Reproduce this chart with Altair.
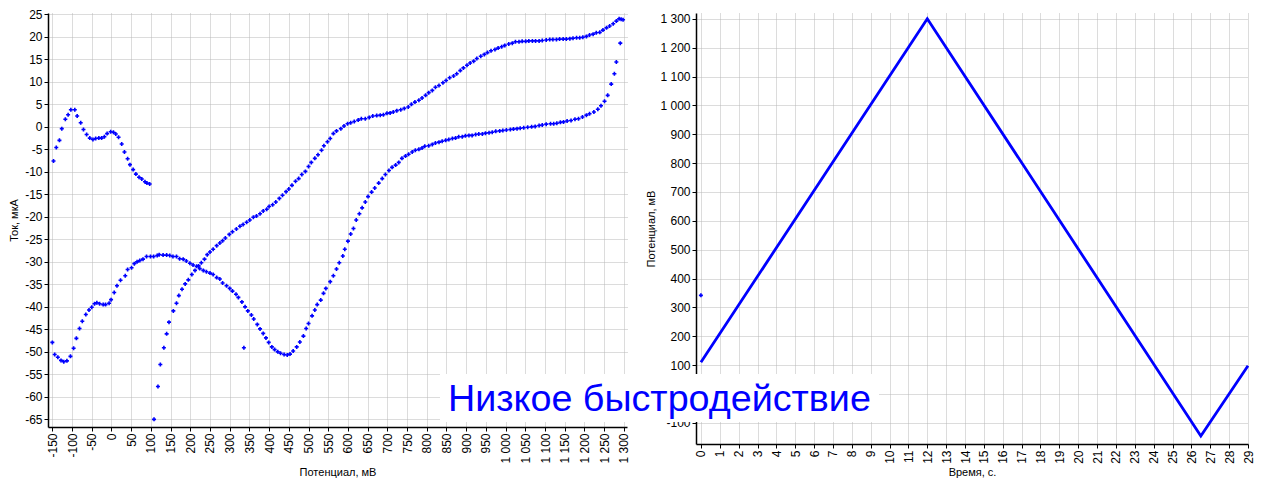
import altair as alt
import pandas as pd

# ---------------- data ----------------
# Left panel: potential (mV), current (uA)
start_point = [(336, -49.1)]

rise_branch = [
    (108, -65.0), (118, -57.7), (124, -52.8), (133, -49.1), (140, -46.0), (146, -43.4),
    (157, -40.9), (165, -39.2), (171, -37.5), (179, -36.1), (187, -34.9), (195, -34.0),
    (204, -32.8), (212, -31.9), (221, -30.9), (228, -30.2), (236, -29.4), (243, -28.4),
    (250, -27.8), (258, -27.2), (267, -26.4), (275, -25.8), (282, -25.3), (289, -24.7),
    (299, -23.9), (307, -23.3), (317, -22.7), (326, -22.1), (334, -21.7), (343, -21.2),
    (351, -20.7), (360, -20.1), (368, -19.8), (377, -19.3), (385, -18.7), (394, -18.3),
    (400, -17.7), (409, -17.3), (417, -16.7), (426, -15.9), (434, -15.2), (443, -14.4),
    (450, -13.8), (458, -13.0), (467, -12.1), (475, -11.5), (483, -10.6), (492, -9.9),
    (500, -8.8), (507, -7.9), (516, -7.0), (524, -6.2), (533, -5.2), (539, -4.2),
    (548, -3.3), (555, -2.6), (563, -1.5), (571, -0.9), (582, -0.4), (590, 0.2),
    (599, 0.7), (607, 0.9), (616, 1.2), (626, 1.5), (634, 1.8), (644, 1.8),
    (654, 2.1), (663, 2.4), (673, 2.5), (682, 2.6), (690, 2.7), (699, 3.0),
    (707, 3.1), (715, 3.3), (724, 3.6), (734, 3.8), (743, 4.1), (753, 4.4),
    (761, 5.0), (770, 5.5), (780, 5.9), (788, 6.4), (797, 7.0), (805, 7.6),
    (814, 8.1), (822, 8.8), (831, 9.2), (841, 9.8), (849, 10.3), (858, 10.9),
    (868, 11.3), (876, 11.8), (885, 12.5), (893, 13.1), (902, 13.7), (910, 14.2),
    (919, 14.6), (927, 15.2), (937, 15.7), (946, 16.1), (954, 16.5), (963, 16.9),
    (973, 17.2), (981, 17.5), (990, 17.8), (998, 18.1), (1008, 18.4), (1017, 18.6),
    (1025, 18.9), (1034, 18.9), (1042, 19.0), (1051, 19.0), (1059, 19.1), (1068, 19.1),
    (1076, 19.1), (1085, 19.1), (1093, 19.2), (1103, 19.3), (1112, 19.4), (1120, 19.4),
    (1129, 19.4), (1137, 19.5), (1146, 19.5), (1154, 19.5), (1163, 19.6), (1171, 19.7),
    (1180, 19.8), (1188, 19.8), (1196, 19.9), (1205, 20.1), (1213, 20.4), (1222, 20.6),
    (1230, 20.9), (1239, 21.0), (1247, 21.5), (1256, 22.0), (1264, 22.4), (1273, 22.9),
    (1281, 23.5), (1288, 24.0), (1293, 23.9), (1298, 23.8),
]

return_branch = [
    (1291, 18.6), (1281, 14.4), (1276, 11.8), (1268, 9.5), (1259, 7.0), (1251, 5.7),
    (1242, 4.7), (1234, 3.9), (1224, 3.3), (1213, 2.9), (1205, 2.6), (1195, 2.2),
    (1185, 1.8), (1176, 1.7), (1166, 1.4), (1156, 1.3), (1147, 1.1), (1139, 1.0),
    (1130, 0.8), (1122, 0.7), (1114, 0.7), (1103, 0.6), (1093, 0.4), (1085, 0.3),
    (1075, 0.1), (1066, 0.0), (1056, -0.1), (1046, -0.2), (1037, -0.3), (1029, -0.4),
    (1020, -0.5), (1012, -0.6), (1002, -0.7), (993, -0.8), (985, -0.9), (975, -1.0),
    (966, -1.2), (958, -1.3), (949, -1.4), (941, -1.6), (932, -1.6), (924, -1.7),
    (915, -1.9), (907, -1.9), (898, -2.0), (890, -2.2), (881, -2.2), (873, -2.5),
    (865, -2.6), (856, -2.8), (848, -3.0), (839, -3.2), (831, -3.4), (822, -3.6),
    (814, -3.9), (805, -4.2), (795, -4.3), (788, -4.7), (780, -5.0), (771, -5.2),
    (763, -5.6), (754, -6.1), (746, -6.5), (737, -7.0), (729, -7.9), (721, -8.5),
    (712, -9.0), (704, -9.7), (695, -10.6), (687, -11.5), (678, -12.5), (668, -13.6),
    (660, -14.5), (651, -15.5), (644, -16.7), (636, -18.0), (629, -19.3), (621, -20.7),
    (614, -22.6), (607, -23.8), (600, -25.4), (592, -27.2), (587, -28.7), (578, -30.2),
    (571, -31.6), (563, -33.1), (555, -34.4), (544, -35.9), (538, -37.0), (531, -38.5),
    (522, -39.5), (516, -40.7), (509, -42.0), (500, -43.7), (494, -44.8), (487, -46.5),
    (478, -47.8), (470, -48.9), (461, -49.8), (453, -50.5), (446, -50.7), (438, -50.6),
    (429, -50.3), (422, -50.0), (414, -49.5), (407, -48.9), (399, -47.9), (392, -46.9),
    (385, -45.9), (377, -44.9), (370, -43.9), (361, -42.7), (355, -41.8), (346, -40.9),
    (339, -40.0), (331, -38.9), (322, -37.9), (316, -37.2), (307, -36.5), (300, -35.9),
    (292, -35.3), (282, -34.7), (275, -33.8), (267, -33.5), (258, -32.8), (250, -32.5),
    (241, -32.2), (233, -31.9), (224, -31.5), (216, -31.0), (207, -30.7), (199, -30.3),
    (190, -29.8), (182, -29.4), (173, -29.3), (165, -28.8), (156, -28.8), (148, -28.6),
    (140, -28.5), (131, -28.5), (121, -28.4), (116, -28.6), (107, -28.8), (99, -28.8),
    (89, -28.8), (80, -29.4), (72, -29.7), (65, -30.0), (58, -30.4), (51, -31.3),
    (41, -31.7), (35, -33.1), (23, -34.1), (14, -35.3), (7, -36.8), (-1, -38.4),
    (-6, -39.2), (-15, -39.5), (-21, -39.5), (-30, -39.3), (-37, -39.1), (-43, -39.3),
    (-50, -40.1), (-57, -40.7), (-65, -41.7), (-74, -43.2), (-81, -44.8), (-89, -47.0),
    (-96, -49.2), (-104, -51.0), (-113, -52.0), (-121, -52.2), (-128, -51.9), (-136, -51.2),
    (-144, -50.6), (-150, -47.9),
]

final_branch = [
    (-147, -7.6), (-140, -4.6), (-132, -3.0), (-126, -0.4), (-117, 1.7), (-110, 2.7),
    (-103, 3.8), (-93, 3.8), (-87, 2.4), (-78, 0.9), (-71, -0.6), (-63, -1.7),
    (-55, -2.5), (-47, -2.8), (-40, -2.6), (-32, -2.5), (-25, -2.5), (-18, -2.2),
    (-11, -1.5), (-2, -1.1), (5, -1.2), (11, -1.6), (18, -2.3), (26, -3.8),
    (33, -5.6), (41, -7.1), (47, -8.4), (55, -9.5), (62, -10.5), (70, -11.2),
    (77, -11.6), (85, -12.2), (90, -12.5), (97, -12.7),
]

# Right panel: time (s), potential (mV) - turning points of the sweep
sweep_time = [0, 12, 26.5, 29]
sweep_potential = [110, 1300, -145, 98]
first_sample_time = [0]
first_sample_potential = [342]

# axis tick values
left_x_ticks = list(range(-150, 1301, 50))
left_y_ticks = list(range(-65, 26, 5))
right_x_ticks = list(range(0, 30))
right_y_ticks = list(range(-100, 1301, 100))

title_text = "Низкое быстродействие"

# ---------------- build tables ----------------
pts = start_point + rise_branch + return_branch + final_branch
cv_df = pd.DataFrame(pts, columns=["V", "I"])
sweep_df = pd.DataFrame({"t": sweep_time, "E": sweep_potential})
first_df = pd.DataFrame({"t": first_sample_time, "E": first_sample_potential})

BLUE = "#0000ff"
FONT = "Liberation Sans"
thousands = "abs(datum.value) >= 1000 ? replace(format(datum.value, ','), ',', ' ') : toString(datum.value)"
# the 0 mV label of the right panel lies under the caption box in the reference
right_y_labels = "datum.value == 0 ? '' : (" + thousands + ")"

common_axis = dict(
    domainColor="black", domainWidth=1.5, tickColor="black", tickSize=4,
    gridColor="#b8b8b8", gridDash=[1, 1], gridWidth=1, labelOverlap=False,
    labelFont=FONT, labelFontSize=12, labelColor="black", labelPadding=2,
    titleFont=FONT, titleFontSize=11, titleFontWeight="normal", titleColor="black",
)

left = alt.Chart(cv_df).mark_point(
    shape="cross", filled=True, size=16, color=BLUE, opacity=1
).encode(
    x=alt.X("V:Q",
            scale=alt.Scale(domain=[-161, 1308], nice=False, zero=False),
            axis=alt.Axis(values=left_x_ticks, labelAngle=270, labelExpr=thousands,
                          title="Потенциал, мВ", titlePadding=3, **common_axis)),
    y=alt.Y("I:Q",
            scale=alt.Scale(domain=[-66.7, 25.3], nice=False, zero=False),
            axis=alt.Axis(values=left_y_ticks, labelExpr="toString(datum.value)",
                          title="Ток, мкА", titlePadding=5, **common_axis)),
).properties(width=579, height=414)


def x_right():
    return alt.X("t:Q",
                 scale=alt.Scale(domain=[-0.26, 29.0], nice=False, zero=False),
                 axis=alt.Axis(values=right_x_ticks, tickCount=30, labelAngle=270,
                               title="Время, с.", titlePadding=3, **common_axis))


def y_right():
    return alt.Y("E:Q",
                 scale=alt.Scale(domain=[-173, 1320], nice=False, zero=False),
                 axis=alt.Axis(values=right_y_ticks, tickCount=15, labelExpr=right_y_labels,
                               title="Потенциал, мВ", titlePadding=3, **common_axis))


sweep = alt.Chart(sweep_df).mark_line(color=BLUE, strokeWidth=2.8).encode(x=x_right(), y=y_right())
first = alt.Chart(first_df).mark_point(
    shape="cross", filled=True, size=16, color=BLUE, opacity=1
).encode(x=x_right(), y=y_right())

box = alt.Chart(alt.Data(values=[{}])).mark_rect(color="white", opacity=1).encode(
    x=alt.value(-256), x2=alt.value(183), y=alt.value(361), y2=alt.value(409)
)
label = alt.Chart(alt.Data(values=[{}])).mark_text(
    text=title_text, font=FONT, fontSize=37.7, color=BLUE, align="left", baseline="alphabetic"
).encode(x=alt.value(-248), y=alt.value(398))

right = alt.layer(sweep, first, box, label).properties(width=552, height=431)

chart = alt.hconcat(left, right, spacing=69, bounds="flush").properties(
    padding=0, background="white"
).configure_view(strokeWidth=0)

chart.save("out.html", embed_options={"renderer": "svg", "actions": False})
